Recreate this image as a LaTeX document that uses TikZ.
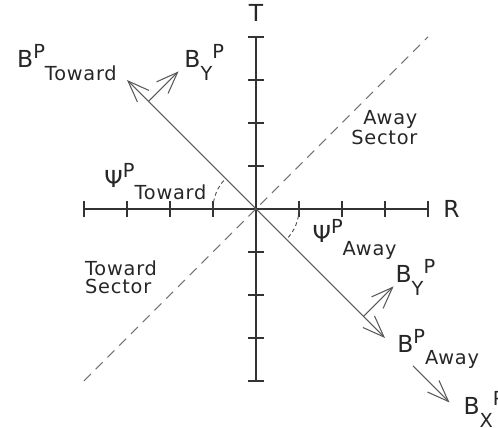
\documentclass[tikz,border=0pt]{standalone}
\usepackage{fontspec}
\setmainfont[LetterSpace=4]{DejaVu Sans}
\usetikzlibrary{arrows.meta}
\newcommand{\bigf}{\fontsize{15.5}{18}\selectfont}
\newcommand{\smf}{\fontsize{12.8}{15}\selectfont}
\newcommand{\upp}[1]{\raisebox{6pt}{\smf #1}}
\newcommand{\dnn}[1]{\raisebox{-8pt}{\smf #1}}

\begin{document}
\begin{tikzpicture}[
  axis/.style={line width=1pt, black!80},
  vec/.style={line width=0.7pt, black!65, -{Straight Barb[length=0.5cm,width=0.38cm]}},
  sector/.style={line width=0.7pt, black!55, dash pattern=on 6.5pt off 4.5pt},
  angle/.style={line width=0.6pt, black!70, dash pattern=on 2.5pt off 2pt},
  lab/.style={inner sep=0pt, text=black!85}]
\useasboundingbox (-5.953,-5.093) rectangle (5.628,4.860);
% axes
\draw[axis] (-4,0) -- (4,0);
\draw[axis] (0,-4) -- (0,4);
\foreach \i in {-4,...,-1,1,2,3,4} {
  \draw[axis] (\i,-0.19) -- (\i,0.19);
  \draw[axis] (-0.19,\i) -- (0.19,\i);
}
\node[lab, anchor=base] (T) at (0,4.35) {\bigf T};
\node[lab, anchor=base west] (R) at (4.35,-0.19) {\bigf R};
% sector boundary
\draw[sector] (-4,-4) -- (4,4);
\node[lab, anchor=north east, align=right] (away) at (3.76,2.30) {\smf Away\\\smf Sector};
\node[lab, anchor=north west, align=left] (toward) at (-3.98,-1.19) {\smf Toward\\\smf Sector};
% field vectors
\coordinate (O) at (0,0);
\coordinate (bt) at (-3,3);
\coordinate (ba) at (3,-3);
\draw[vec] (O) -- (bt);
\draw[vec] (O) -- (ba);
\coordinate (yt0) at (-2.5,2.5);
\coordinate (yt1) at (-1.8,3.2);
\coordinate (ya0) at (2.5,-2.5);
\coordinate (ya1) at (3.2,-1.8);
\draw[vec] (yt0) -- (yt1);
\draw[vec] (ya0) -- (ya1);
\coordinate (x0) at (3.65,-3.65);
\coordinate (x1) at (4.5,-4.5);
\draw[vec] (x0) -- (x1);
% angles
\draw[angle] (-1,0) arc[start angle=180, end angle=135, radius=1];
\draw[angle] (1,0) arc[start angle=0, end angle=-45, radius=1];
% labels
\node[lab, anchor=base west] (lbt) at (-5.56,3.28) {\bigf B\upp{P}\dnn{Toward}};
\node[lab, anchor=base west] (lyt) at (-1.67,3.28) {\bigf B\dnn{Y}\upp{P}};
\node[lab, anchor=base west] (lpt) at (-3.53,0.51) {\bigf Ψ\upp{P}\dnn{Toward}};
\node[lab, anchor=base west] (lpa) at (1.31,-0.79) {\bigf Ψ\upp{P}\dnn{Away}};
\node[lab, anchor=base west] (lya) at (3.24,-1.72) {\bigf B\dnn{Y}\upp{P}};
\node[lab, anchor=base west] (lba) at (3.28,-3.33) {\bigf B\upp{P}\dnn{Away}};
\node[lab, anchor=base west] (lbx) at (4.82,-4.79) {\bigf B\dnn{X}\upp{P}};
\end{tikzpicture}
\end{document}
